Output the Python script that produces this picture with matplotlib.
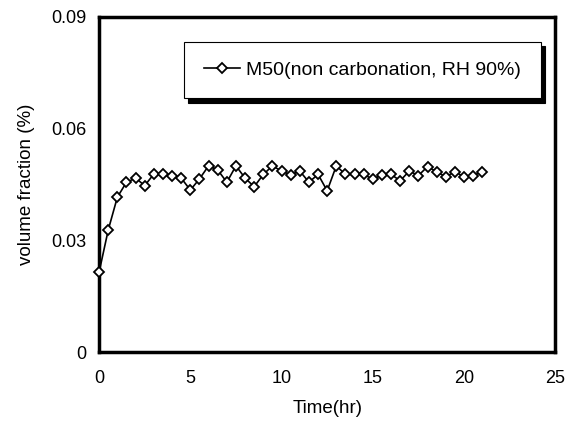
import numpy as np
import matplotlib
matplotlib.use("Agg")
import matplotlib.pyplot as plt

plt.rcParams['font.family'] = ['Liberation Sans', 'DejaVu Sans']

# measured volume fraction, one reading every half hour
time_hr = np.arange(0, 21.01, 0.5)
vol_frac = [0.0215, 0.0328, 0.0416, 0.0456, 0.0467, 0.0447, 0.0478, 0.0477,
            0.0474, 0.0467, 0.0435, 0.0465, 0.0500, 0.0489, 0.0456, 0.0500,
            0.0467, 0.0444, 0.0477, 0.0500, 0.0486, 0.0476, 0.0486, 0.0456,
            0.0477, 0.0433, 0.0500, 0.0477, 0.0477, 0.0477, 0.0464, 0.0476,
            0.0477, 0.0460, 0.0486, 0.0474, 0.0498, 0.0484, 0.0471, 0.0484,
            0.0471, 0.0474, 0.0484]
label = "M50(non carbonation, RH 90%)"

x_ticks = [0, 5, 10, 15, 20, 25]
y_ticks = [0, 0.03, 0.06, 0.09]
y_labels = ["0", "0.03", "0.06", "0.09"]

fig = plt.figure(figsize=(5.73, 4.32), dpi=100)
ax = fig.add_axes([0.173, 0.185, 0.796, 0.776])

ax.plot(time_hr, vol_frac, color='black', lw=1.2, marker='D', ms=5.5,
        mfc='white', mec='black', mew=1.3, clip_on=False, zorder=3,
        label=label)

ax.set_xlim(0, 25)
ax.set_ylim(0, 0.09)
ax.set_xticks(x_ticks)
ax.set_yticks(y_ticks)
ax.set_yticklabels(y_labels)
ax.tick_params(length=0, labelsize=13)
ax.tick_params(axis='x', pad=13)
ax.tick_params(axis='y', pad=9)
for s in ax.spines.values():
    s.set_linewidth(2.5)

ax.set_xlabel("Time(hr)", fontsize=13.5, labelpad=9)
ax.set_ylabel("volume fraction (%)", fontsize=13.5, labelpad=12)

leg = ax.legend(loc='upper right', bbox_to_anchor=(0.968, 0.925),
                borderaxespad=0, fontsize=14, frameon=True, fancybox=False,
                borderpad=1.0, handlelength=1.9, handletextpad=0.3,
                shadow={'color': 'black', 'alpha': 1, 'ox': 3, 'oy': -3})
leg.get_frame().set_edgecolor('black')
leg.get_frame().set_linewidth(0.8)
leg.get_frame().set_alpha(1)

fig.savefig("out.png", dpi=100)
